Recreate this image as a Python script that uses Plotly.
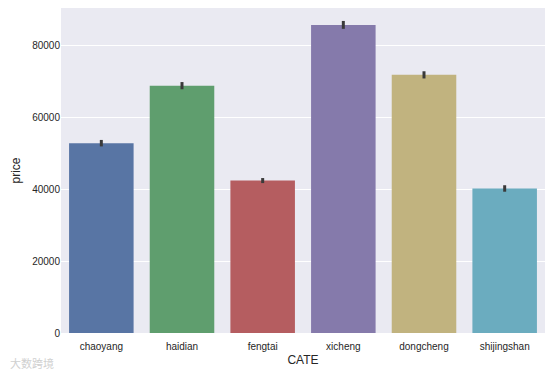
import plotly.graph_objects as go

categories = ["chaoyang", "haidian", "fengtai", "xicheng", "dongcheng", "shijingshan"]
prices = [52800, 68800, 42400, 85700, 71800, 40200]
errors = [900, 1000, 700, 1100, 1000, 900]
colors = ["#5875A4", "#5F9E6E", "#B55D60", "#857AAB", "#C1B37F", "#6BACBF"]
y_ticks = [0, 20000, 40000, 60000, 80000]

fig = go.Figure(go.Bar(
    x=categories,
    y=prices,
    marker=dict(color=colors, line=dict(width=0)),
    error_y=dict(type="data", array=errors, color="#3A3A3A", thickness=3, width=0),
))

font = dict(family="Liberation Sans, Arial, sans-serif", size=10, color="#262626")
fig.update_layout(
    width=545, height=365,
    margin=dict(l=53, r=8, t=0, b=40),
    paper_bgcolor="white",
    plot_bgcolor="#EAEAF2",
    bargap=0.2,
    font=font,
    showlegend=False,
    xaxis=dict(title=dict(text="CATE", font=dict(size=12), standoff=4),
               showgrid=False, zeroline=False, ticks="outside", ticklen=4,
               tickcolor="rgba(0,0,0,0)", automargin=False),
    yaxis=dict(title=dict(text="price", font=dict(size=12), standoff=8),
               range=[0, 90400], tickvals=y_ticks, ticktext=[str(v) for v in y_ticks],
               showgrid=True, gridcolor="white", gridwidth=1, zeroline=False, ticks="",
               automargin=False),
)
fig.add_annotation(text="大数跨境", x=-0.11, y=-0.06, xref="paper", yref="paper",
                   xanchor="left", yanchor="top", showarrow=False,
                   font=dict(family="Noto Sans CJK SC", size=11, color="#D0D0D0"))
fig.write_html("out.html")
